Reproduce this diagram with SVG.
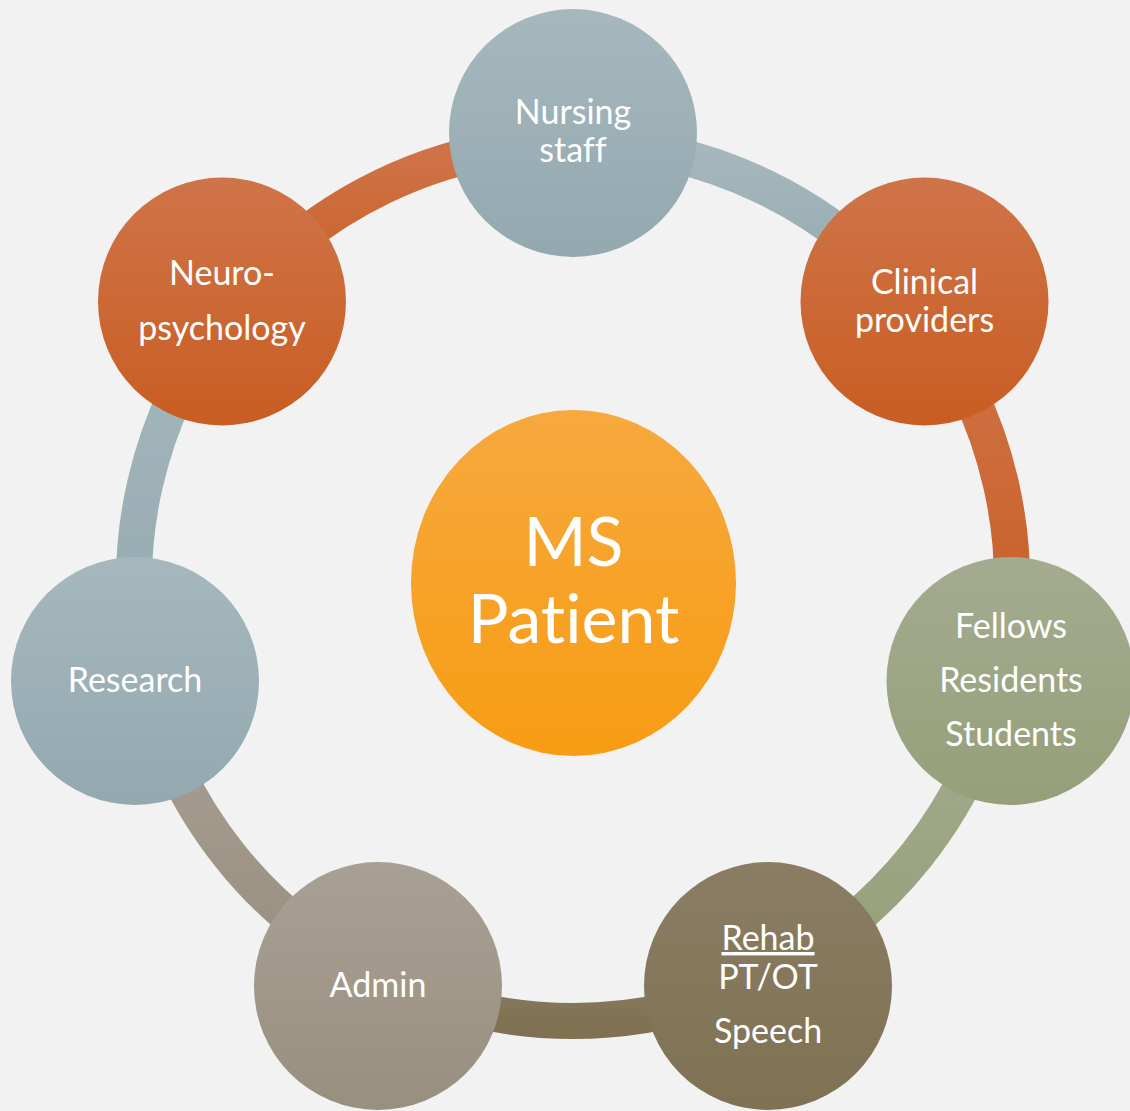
<svg xmlns="http://www.w3.org/2000/svg" width="1130" height="1111" viewBox="0 0 1130 1111">
<defs>
<linearGradient id="gBlue" x1="0" y1="0" x2="0" y2="1"><stop offset="0" stop-color="#a6b8be"/><stop offset="1" stop-color="#93a8af"/></linearGradient>
<linearGradient id="gOrange" x1="0" y1="0" x2="0" y2="1"><stop offset="0" stop-color="#cf7449"/><stop offset="1" stop-color="#c95d22"/></linearGradient>
<linearGradient id="gGreen" x1="0" y1="0" x2="0" y2="1"><stop offset="0" stop-color="#a4ab90"/><stop offset="1" stop-color="#95a079"/></linearGradient>
<linearGradient id="gBrown" x1="0" y1="0" x2="0" y2="1"><stop offset="0" stop-color="#8b7d64"/><stop offset="1" stop-color="#7f7152"/></linearGradient>
<linearGradient id="gTaupe" x1="0" y1="0" x2="0" y2="1"><stop offset="0" stop-color="#a9a095"/><stop offset="1" stop-color="#998f7f"/></linearGradient>
<linearGradient id="gCenter" x1="0" y1="0" x2="0" y2="1"><stop offset="0" stop-color="#f6a93e"/><stop offset="1" stop-color="#f89c13"/></linearGradient>
<style>
.arc{fill:none;stroke-width:36}
text{font-variant-ligatures:none;font-feature-settings:"liga" 0,"clig" 0}
.lbl{font-family:Lato,"Open Sans","Liberation Sans",sans-serif;font-size:34px;fill:#ffffff;text-anchor:middle}
.big{font-family:Lato,"Open Sans","Liberation Sans",sans-serif;font-size:68px;fill:#ffffff;text-anchor:middle}
</style>
</defs>
<rect width="1130" height="1111" fill="#f2f2f2"/>
<g id="connectors">
<path class="arc" stroke="url(#gOrange)" d="M229.8,308.3 A439,439 0 0 1 573,143"/>
<path class="arc" stroke="url(#gBlue)" d="M573,143 A439,439 0 0 1 916.2,308.3"/>
<path class="arc" stroke="url(#gOrange)" d="M916.2,308.3 A439,439 0 0 1 1001,679.7"/>
<path class="arc" stroke="url(#gGreen)" d="M1001,679.7 A439,439 0 0 1 763.5,977.5"/>
<path class="arc" stroke="url(#gBrown)" d="M763.5,977.5 A439,439 0 0 1 382.5,977.5"/>
<path class="arc" stroke="url(#gTaupe)" d="M382.5,977.5 A439,439 0 0 1 145,679.7"/>
<path class="arc" stroke="url(#gBlue)" d="M145,679.7 A439,439 0 0 1 229.8,308.3"/>
</g>
<g id="center">
<ellipse cx="573.5" cy="583" rx="162.5" ry="173" fill="url(#gCenter)"/>
<text class="big" x="573.5" y="566">MS</text>
<text class="big" x="573.5" y="643">Patient</text>
</g>
<g id="nursing">
<circle cx="573" cy="133" r="124" fill="url(#gBlue)"/>
<text class="lbl" x="573" y="124">Nursing</text>
<text class="lbl" x="573" y="162">staff</text>
</g>
<g id="clinical">
<circle cx="924.5" cy="301.5" r="124" fill="url(#gOrange)"/>
<text class="lbl" x="924.5" y="294">Clinical</text>
<text class="lbl" x="924.5" y="332">providers</text>
</g>
<g id="fellows">
<circle cx="1010.5" cy="681" r="124" fill="url(#gGreen)"/>
<text class="lbl" x="1011" y="638">Fellows</text>
<text class="lbl" x="1011" y="692">Residents</text>
<text class="lbl" x="1011" y="746">Students</text>
</g>
<g id="rehab">
<circle cx="768" cy="986" r="124" fill="url(#gBrown)"/>
<text class="lbl" x="768" y="950" text-decoration="underline">Rehab</text>
<text class="lbl" x="768" y="989">PT/OT</text>
<text class="lbl" x="768" y="1043">Speech</text>
</g>
<g id="admin">
<circle cx="378" cy="986" r="124" fill="url(#gTaupe)"/>
<text class="lbl" x="378" y="997">Admin</text>
</g>
<g id="research">
<circle cx="135" cy="681" r="124" fill="url(#gBlue)"/>
<text class="lbl" x="135" y="692">Research</text>
</g>
<g id="neuro">
<circle cx="222" cy="301.5" r="124" fill="url(#gOrange)"/>
<text class="lbl" x="222" y="285">Neuro-</text>
<text class="lbl" x="222" y="340">psychology</text>
</g>
</svg>
